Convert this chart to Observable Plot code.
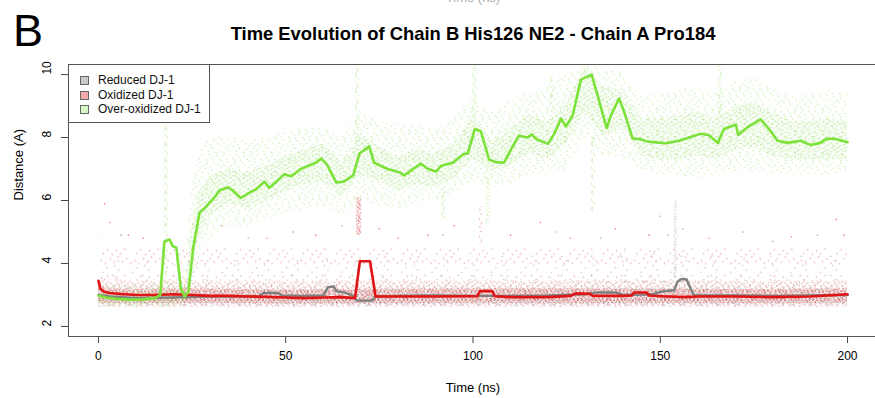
<!DOCTYPE html>
<html>
<head>
<meta charset="utf-8">
<script src="https://cdn.jsdelivr.net/npm/d3@7"></script>
<script src="https://cdn.jsdelivr.net/npm/@observablehq/plot@0.6"></script>
<style>
  body { margin: 0; background: #fff; font-family: "Liberation Sans", Arial, sans-serif; }
  #wrap { position: relative; width: 875px; height: 398px; overflow: hidden; }
  #legend { position: absolute; left: 68px; top: 64px; width: 140px; height: 57px;
            border: 1px solid #555; background: #fff; font-size: 12px; color: #111; }
  .item { position: absolute; left: 0; height: 14px; line-height: 14px; white-space: nowrap; }
  .sw { position: absolute; left: 11px; top: 3px; width: 7px; height: 7px; border: 1px solid #666; }
  .lab { position: absolute; left: 29px; top: 0; }
</style>
</head>
<body>
<div id="wrap"></div>
<script>
// ---- smoothed distance traces (time in ns, distance in Å) ----
const overTime = [0,2,5,8,12,15,16.5,17.6,19,19.8,20.8,22,23,24,25.3,27,28.3,31,32.3,34.6,36,38,40.8,42,44.3,45.6,47.5,49.6,51.5,54,56,58,59.5,61,63.5,65.5,68,69.7,71,72.3,73.6,77.2,80.3,81.7,84,86.1,88,90.1,91.5,94.6,97.3,98.6,100.5,102.1,104.3,106,108.3,110.5,112.3,114.6,115.7,116.9,120,121.6,123.5,124.8,126.6,128.8,131.7,133.7,135.7,136.8,139,140.2,142.6,144.7,146.6,151.5,155,160.8,163,165.4,167,170.2,170.8,173.3,176.8,179.5,181.3,184,187.5,190.2,192.8,194.2,196.3,200];
const overDist = [2.98,2.92,2.88,2.85,2.86,2.9,3.0,4.7,4.76,4.55,4.5,3.2,2.95,3.1,4.5,5.62,5.75,6.1,6.32,6.42,6.3,6.08,6.28,6.35,6.6,6.4,6.6,6.83,6.77,7.0,7.1,7.2,7.33,7.15,6.57,6.6,6.8,7.5,7.6,7.72,7.2,7.0,6.9,6.8,7.0,7.17,7.0,6.92,7.1,7.2,7.46,7.5,8.27,8.2,7.3,7.22,7.2,7.7,8.06,8.0,8.1,7.95,7.8,8.1,8.6,8.35,8.7,9.84,10.0,9.15,8.3,8.7,9.24,8.87,7.97,7.95,7.87,7.82,7.9,8.12,8.07,7.83,8.27,8.41,8.08,8.33,8.58,8.2,7.9,7.83,7.9,7.76,7.83,7.95,7.97,7.85];

const oxTime = [0,0.5,1.5,3,6,10,15,20,25,30,35,40,45,50,55,60,65,68.5,69.8,72.5,74,80,90,100,101.2,101.8,105.2,105.8,110,120,126,127.5,131,132,140,142.3,143,146.3,147,150,157,160,170,180,190,200];
const oxDist = [3.45,3.2,3.1,3.06,3.03,3.0,3.0,3.02,3.0,2.97,2.97,2.95,2.94,2.92,2.9,2.92,2.93,2.9,4.07,4.07,2.95,2.95,2.95,2.96,2.96,3.12,3.12,2.96,2.93,2.93,2.97,3.05,3.04,2.97,2.97,2.98,3.08,3.08,2.98,2.96,2.93,2.95,2.95,2.93,2.95,3.02];

const redTime = [0,3,10,20,30,40,43,44,48,49,55,60,61.3,62.8,63.5,66,68,69,73,74,80,90,100,110,120,130,133,138,140,148,150,153.7,154.6,155.5,157,158.3,159,170,180,190,200];
const redDist = [3.0,2.95,2.9,2.92,2.95,2.95,2.96,3.06,3.06,2.98,2.97,2.98,3.25,3.27,3.12,3.07,2.97,2.82,2.82,2.95,2.97,2.98,2.97,2.97,2.98,3.02,3.08,3.08,3.0,3.02,3.1,3.15,3.42,3.5,3.5,3.15,2.98,2.98,2.97,2.98,3.0];

// ---- spread of the raw frames around each trace ----
const cloudTime  = [0,5,10,15,20,23,25,27,30,35,40,45,50,55,60,65,70,75,80,85,90,95,100,105,110,115,120,125,130,135,140,145,150,155,160,165,170,175,180,185,190,195,200];
const overWideLo = [2.6,2.6,2.6,2.6,2.6,2.6,3.2,4.2,4.8,5.2,5.2,5.4,5.6,5.7,5.8,5.5,6.0,5.8,5.7,5.9,6.0,6.2,6.6,6.4,6.5,6.8,6.8,7.0,8.0,7.4,7.4,6.9,6.8,6.8,6.7,6.8,6.9,6.9,6.8,6.8,6.8,6.8,6.9];
const overWideHi = [3.3,3.3,3.3,3.4,3.4,3.5,6.5,7.6,8.0,8.0,7.9,8.0,8.2,8.3,8.3,8.0,8.8,8.5,8.4,8.4,8.3,8.6,9.3,8.8,9.2,9.4,9.6,10.0,10.3,10.2,10.1,9.3,9.4,9.5,9.6,9.4,9.8,9.9,9.6,9.3,9.4,9.5,9.4];
const overCoreLo = [2.72,2.7,2.68,2.7,2.72,2.75,3.8,4.9,5.5,5.9,5.7,6.0,6.3,6.5,6.6,6.1,6.8,6.6,6.3,6.5,6.4,6.7,7.3,6.9,7.1,7.5,7.3,7.8,8.8,8.0,8.3,7.4,7.3,7.3,7.4,7.3,7.6,7.7,7.4,7.3,7.3,7.3,7.3];
const overCoreHi = [3.12,3.08,3.05,3.08,3.1,3.15,5.2,6.3,6.8,7.0,6.9,7.1,7.4,7.6,7.8,7.2,8.1,7.7,7.4,7.6,7.5,7.8,8.7,7.9,8.3,8.7,8.5,9.1,10.3,9.6,9.5,8.6,8.6,8.7,8.8,8.6,9.0,9.1,8.8,8.5,8.5,8.6,8.5];

const bandTime  = [0,2,10,25,50,75,100,125,150,175,200];
const oxCoreLo  = [2.74,2.74,2.73,2.74,2.72,2.73,2.74,2.73,2.74,2.73,2.74];
const oxCoreHi  = [3.35,3.2,3.18,3.2,3.16,3.18,3.2,3.2,3.18,3.17,3.2];
const oxWideLo  = [2.62,2.62,2.61,2.62,2.6,2.62,2.62,2.61,2.62,2.61,2.62];
const oxWideHi  = [3.7,3.5,3.45,3.45,3.42,3.45,3.45,3.45,3.45,3.42,3.45];
const oxHaloHi  = [5.0,4.8,4.6,4.5,4.5,4.5,4.6,4.6,4.6,4.5,4.6];
const redCoreLo = [2.72,2.72,2.71,2.72,2.7,2.7,2.71,2.7,2.71,2.7,2.71];
const redCoreHi = [3.15,3.15,3.12,3.14,3.14,3.15,3.15,3.16,3.2,3.15,3.16];
const redWideLo = [2.6,2.6,2.6,2.6,2.6,2.6,2.6,2.6,2.6,2.6,2.6];
const redWideHi = [3.35,3.35,3.35,3.35,3.38,3.38,3.38,3.4,3.45,3.38,3.4];
const redHaloHi = [4.2,4.2,4.1,4.1,4.2,4.2,4.2,4.3,4.4,4.2,4.3];

// brief excursions of single frames (time, low, high)
const overStreakT  = [18, 69, 100.3, 121, 166, 104, 132, 92];
const overStreakLo = [3.3, 7.8, 8.6, 8.8, 8.6, 5.2, 5.6, 5.4];
const overStreakHi = [9.6, 10.3, 10.3, 10.0, 10.3, 6.9, 8.0, 6.4];
const oxStreakT  = [69.5];
const oxStreakLo = [4.9];
const oxStreakHi = [6.1];
const oxFaintT  = [102];
const oxFaintLo = [4.6];
const oxFaintHi = [5.8];
const redStreakT  = [154];
const redStreakLo = [3.5];
const redStreakHi = [6.0];

const oxOutT = [1.6,3,8,12,26,33,45,52,58,75,80,88,95,110,118,126,138,147,163,172,185,197,199];
const oxOutD = [5.9,5.3,4.9,4.8,4.7,5.2,4.8,5.0,4.9,5.1,4.8,4.9,5.2,4.9,5.3,4.8,5.1,4.9,4.8,5.0,4.85,5.4,4.9];
const redOutT = [6,40,65,92,122,134,150,152,156,180,192];
const redOutD = [4.9,4.8,5.2,4.9,5.0,4.8,5.5,4.9,5.1,4.7,4.9];

const xTicks = [0, 50, 100, 150, 200];
const yTicks = [2, 4, 6, 8, 10];

const series = [
  {name: "Reduced DJ-1", line: "#7f7f7f", swatch: "#c9c9c9"},
  {name: "Oxidized DJ-1", line: "#e01414", swatch: "#f3aaaa"},
  {name: "Over-oxidized DJ-1", line: "#7ce23a", swatch: "#d7f7c6"}
];

// ---- table builders ----
const pts = (ts, ds) => ts.map((t, i) => ({t, d: ds[i]}));
const band = (ts, lo, hi) => ts.map((t, i) => ({t, lo: lo[i], hi: hi[i]}));

// ---- speckle textures for the frame clouds ----
// one irregular 29x23 tile of dots, rescaled/flipped per texture so the clouds do not line up
const ns = "http://www.w3.org/2000/svg";
const speckleTile = [[1.2,3.4],[4.7,0.8],[8.9,5.1],[12.3,1.9],[15.8,6.7],[19.4,2.6],[23.1,4.9],[26.7,1.1],[2.9,9.6],[6.4,12.8],[10.6,8.7],[14.1,11.9],[17.7,9.3],[21.5,13.4],[25.2,10.2],[28.1,7.6],[0.6,16.2],[4.3,19.7],[7.9,15.4],[11.8,21.3],[15.2,17.1],[18.9,20.6],[22.6,16.8],[26.3,19.9],[3.5,22.1],[9.4,18.6],[13.7,14.8],[20.8,7.3],[24.4,22.4],[27.6,14.3]];
// id, transform, dots used, colour, opacity, radius (in tile units)
const speckles = [
  ["sGw", "scale(0.8) rotate(90)", 30, "#747474", 0.45, 0.9],
  ["sGc", "scale(0.55) scale(-1,1)", 30, "#747474", 0.5, 1.3],
  ["sGh", "scale(1.3) rotate(90)", 10, "#888", 0.5, 0.6],
  ["sRw", "scale(0.75)", 30, "#d92424", 0.5, 0.95],
  ["sRc", "scale(0.5) rotate(180)", 30, "#d92424", 0.6, 1.45],
  ["sRh", "scale(1.15) scale(1,-1)", 14, "#d93a3a", 0.5, 0.65],
  ["sRs", "scale(0.45) rotate(90)", 30, "#d92424", 0.65, 1.6],
  ["sVw", "scale(0.95) scale(-1,-1)", 30, "#8ddc5a", 0.5, 0.8],
  ["sVc", "scale(0.6) rotate(270)", 30, "#8ddc5a", 0.55, 1.25],
  ["sVs", "scale(0.7)", 30, "#8ddc5a", 0.6, 1.1]
];
const speckleDefs = () => {
  const defs = document.createElementNS(ns, "defs");
  for (const [id, tf, n, color, op, r] of speckles) {
    const p = document.createElementNS(ns, "pattern");
    p.setAttribute("id", id);
    p.setAttribute("patternUnits", "userSpaceOnUse");
    p.setAttribute("width", 29);
    p.setAttribute("height", 23);
    p.setAttribute("patternTransform", tf);
    for (const [cx, cy] of speckleTile.slice(0, n)) {
      const c = document.createElementNS(ns, "circle");
      c.setAttribute("cx", cx);
      c.setAttribute("cy", cy);
      c.setAttribute("r", r);
      c.setAttribute("fill", color);
      c.setAttribute("fill-opacity", op);
      p.appendChild(c);
    }
    defs.appendChild(p);
  }
  return defs;
};

const cloud = (ts, lo, hi, fill) =>
  Plot.areaY(band(ts, lo, hi), {x: "t", y1: "lo", y2: "hi", fill, curve: "linear"});
const streaks = (ts, lo, hi, stroke, w) =>
  Plot.ruleX(band(ts, lo, hi), {x: "t", y1: "lo", y2: "hi", stroke, strokeWidth: w});

const chart = Plot.plot({
  width: 875,
  height: 398,
  marginTop: 64,
  marginBottom: 62,
  marginLeft: 68,
  marginRight: -2,
  style: {fontFamily: "'Liberation Sans', Arial, sans-serif", fontSize: "12px", background: "transparent", overflow: "visible"},
  x: {domain: [-8, 208]},
  y: {domain: [1.68, 10.32]},
  marks: [
    speckleDefs,
    // reduced frames
    cloud(bandTime, redWideLo, redWideHi, "url(#sGw)"),
    cloud(bandTime, redCoreLo, redCoreHi, "url(#sGc)"),
    cloud(bandTime, redWideHi, redHaloHi, "url(#sGh)"),
    streaks(redStreakT, redStreakLo, redStreakHi, "url(#sGc)", 3),
    Plot.dot(pts(redOutT, redOutD), {x: "t", y: "d", r: 0.8, fill: "#777", fillOpacity: 0.6}),
    // oxidized frames
    cloud(bandTime, oxWideLo, oxWideHi, "url(#sRw)"),
    cloud(bandTime, oxCoreLo, oxCoreHi, "url(#sRc)"),
    cloud(bandTime, oxWideHi, oxHaloHi, "url(#sRh)"),
    streaks(oxStreakT, oxStreakLo, oxStreakHi, "url(#sRs)", 5),
    streaks(oxFaintT, oxFaintLo, oxFaintHi, "url(#sRw)", 3),
    Plot.dot(pts(oxOutT, oxOutD), {x: "t", y: "d", r: 0.8, fill: "#d93030", fillOpacity: 0.6}),
    // over-oxidized frames
    cloud(cloudTime, overWideLo, overWideHi, "url(#sVw)"),
    cloud(cloudTime, overCoreLo, overCoreHi, "url(#sVc)"),
    streaks(overStreakT, overStreakLo, overStreakHi, "url(#sVs)", 4),
    // smoothed traces
    Plot.line(pts(redTime, redDist), {x: "t", y: "d", stroke: series[0].line, strokeWidth: 2.4}),
    Plot.line(pts(oxTime, oxDist), {x: "t", y: "d", stroke: series[1].line, strokeWidth: 2.6}),
    Plot.line(pts(overTime, overDist), {x: "t", y: "d", stroke: series[2].line, strokeWidth: 2.6}),
    Plot.frame({stroke: "#555", strokeWidth: 1}),
    Plot.axisX({ticks: xTicks, tickSize: 7, tickPadding: 8, fontSize: 12, label: null, stroke: "#444"}),
    Plot.axisY({ticks: yTicks, tickSize: 7, tickFormat: () => "", label: null, stroke: "#444"}),
    Plot.text(yTicks, {y: d => d, text: d => String(d), frameAnchor: "left", dx: -21, rotate: -90, fontSize: 12}),
    // titles
    Plot.text(["Time Evolution of Chain B His126 NE2 - Chain A Pro184"], {text: d => d, frameAnchor: "top", lineAnchor: "middle", dy: -30, fontSize: 18.4, fontWeight: "bold"}),
    Plot.text(["B"], {text: d => d, frameAnchor: "top-left", lineAnchor: "middle", dx: -40.5, dy: -33, fontSize: 45, textAnchor: "middle"}),
    Plot.text(["Time (ns)"], {text: d => d, frameAnchor: "top", lineAnchor: "middle", dy: -67, fontSize: 13, fill: "#aaa"}),
    Plot.text(["Distance (A)"], {text: d => d, frameAnchor: "left", dx: -50, rotate: -90, fontSize: 13}),
    Plot.text(["Time (ns)"], {text: d => d, frameAnchor: "bottom", lineAnchor: "middle", dy: 51, fontSize: 13})
  ]
});

const wrap = document.getElementById("wrap");
wrap.appendChild(chart);

// legend
const legend = document.createElement("div");
legend.id = "legend";
series.forEach((s, i) => {
  const item = document.createElement("div");
  item.className = "item";
  item.style.top = (8 + i * 14.5) + "px";
  item.innerHTML = `<span class="sw" style="background:${s.swatch}"></span><span class="lab">${s.name}</span>`;
  legend.appendChild(item);
});
wrap.appendChild(legend);
</script>
</body>
</html>
